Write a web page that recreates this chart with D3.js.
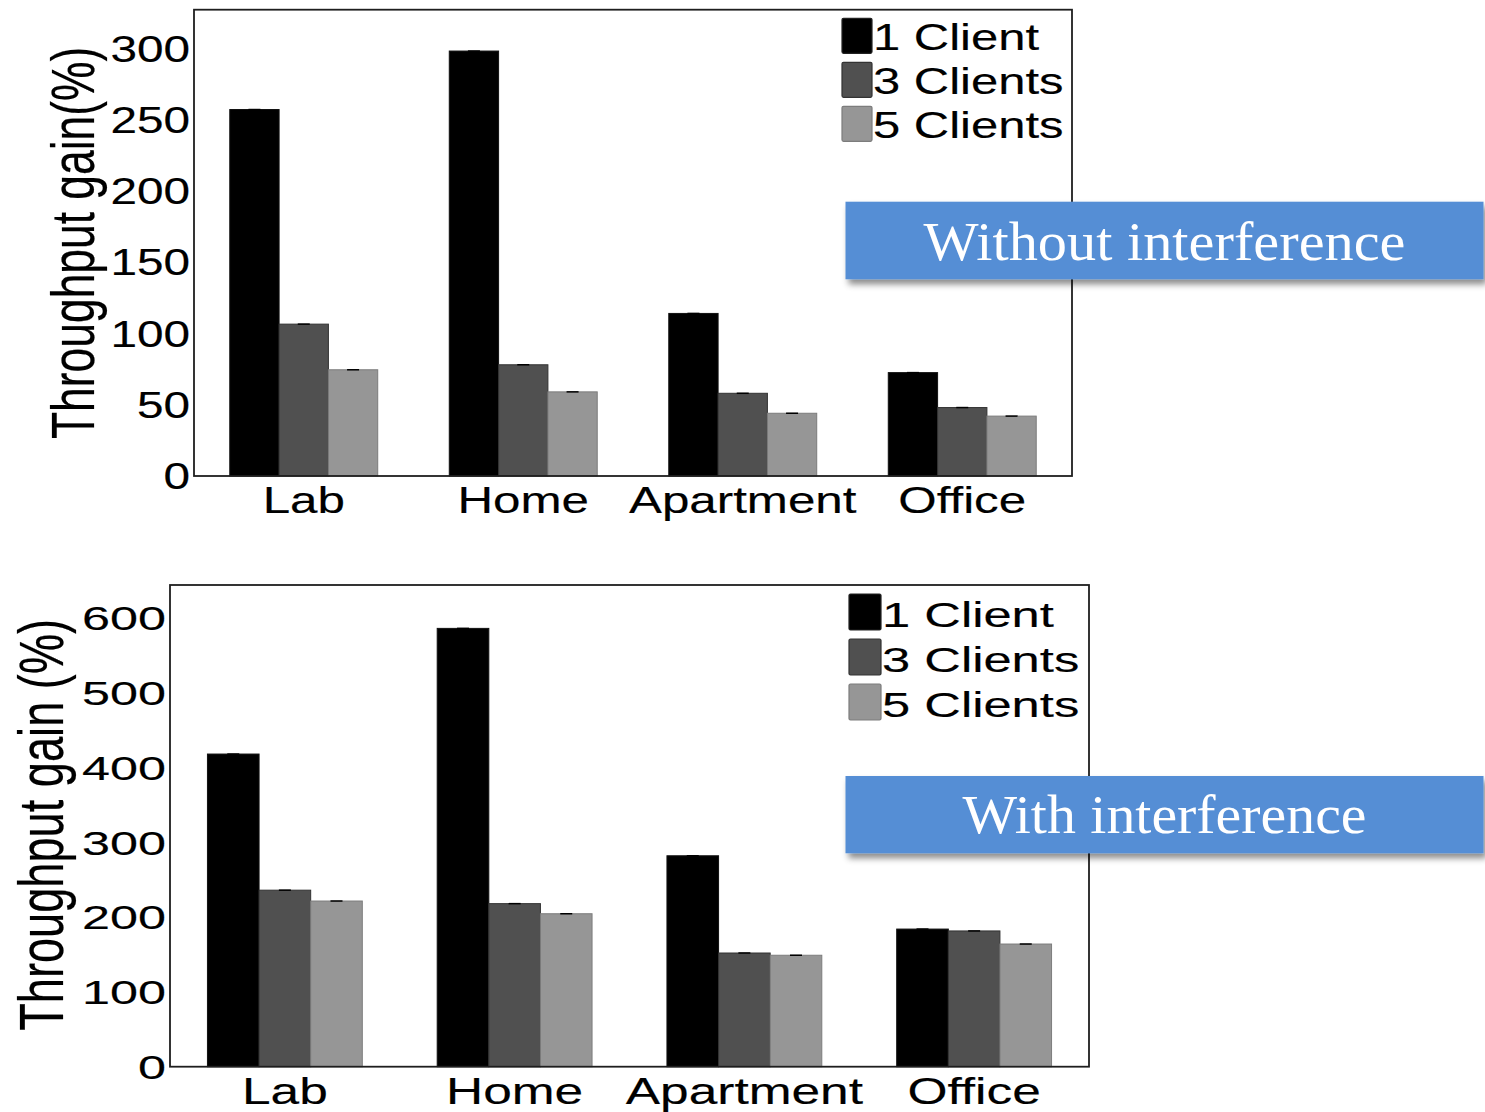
<!DOCTYPE html>
<html>
<head>
<meta charset="utf-8">
<script src="https://cdn.jsdelivr.net/npm/d3@7/dist/d3.min.js"></script>
<style>
  html, body { margin: 0; padding: 0; background: #ffffff; }
  svg { display: block; }
</style>
</head>
<body>
<svg id="chart" width="1485" height="1112"></svg>
<script>
// Deployment sites and client counts
const categories = ["Lab", "Home", "Apartment", "Office"];
const seriesNames = ["1 Client", "3 Clients", "5 Clients"];

// Throughput gain (%) without interference
const noIntf1 = [257, 298, 114, 72.5];
const noIntf3 = [106.5, 78, 58, 48];
const noIntf5 = [74.5, 59, 44, 42];

// Throughput gain (%) with interference
const intf1 = [418, 586, 282, 184];
const intf3 = [236, 218, 152, 181.5];
const intf5 = [221.5, 204.5, 149, 164];

// Axis ticks
const ticksTop = [0, 50, 100, 150, 200, 250, 300];
const ticksBottom = [0, 100, 200, 300, 400, 500, 600];

const fills = ["#000000", "#505050", "#969696"];
const edges = ["#111111", "#333333", "#7c7c7c"];

const svg = d3.select("#chart");

// Drop shadow for the caption banners
const defs = svg.append("defs");
const f = defs.append("filter").attr("id", "shadow")
  .attr("x", "-5%").attr("y", "-20%").attr("width", "115%").attr("height", "160%");
f.append("feDropShadow").attr("dx", 3).attr("dy", 5).attr("stdDeviation", 3)
  .attr("flood-color", "#000").attr("flood-opacity", 0.45);

// Horizontally widened text helper
function stretchedText(g, x, y, str, opts) {
  return g.append("text")
    .attr("transform", `translate(${x},${y}) scale(${opts.sx},1)` + (opts.rotate ? ` rotate(${opts.rotate})` : ""))
    .attr("text-anchor", opts.anchor || "start")
    .attr("dy", opts.dy || 0)
    .attr("font-family", "'Liberation Sans', Arial, Helvetica, sans-serif")
    .attr("font-size", opts.size)
    .attr("fill", "#000")
    .attr("stroke", "#000")
    .attr("stroke-width", 0.15)
    .text(str);
}

function drawPanel(p) {
  const g = svg.append("g");
  const x0 = d3.scaleBand().domain(categories).range([p.left, p.right]).padding(0);
  const bw = x0.bandwidth();
  const x1 = d3.scaleBand().domain(seriesNames).range([bw * 0.163, bw * 0.837]).padding(0);
  const y = d3.scaleLinear().domain([0, p.yMax]).range([p.bottom, p.top]);

  const rows = categories.map((c, i) => ({ cat: c, vals: p.series.map(s => s[i]) }));

  const groups = g.selectAll("g.grp").data(rows).join("g")
    .attr("class", "grp")
    .attr("transform", d => `translate(${x0(d.cat)},0)`);

  groups.selectAll("rect").data(d => d.vals.map((v, k) => ({ k, v }))).join("rect")
    .attr("x", d => x1(seriesNames[d.k]))
    .attr("y", d => y(d.v))
    .attr("width", x1.bandwidth())
    .attr("height", d => y(0) - y(d.v))
    .attr("fill", d => fills[d.k])
    .attr("stroke", d => edges[d.k])
    .attr("stroke-width", 1);

  // tiny error-bar caps
  groups.selectAll("line.cap").data(d => d.vals.map((v, k) => ({ k, v }))).join("line")
    .attr("class", "cap")
    .attr("x1", d => x1(seriesNames[d.k]) + x1.bandwidth() / 2 - 6)
    .attr("x2", d => x1(seriesNames[d.k]) + x1.bandwidth() / 2 + 6)
    .attr("y1", d => y(d.v)).attr("y2", d => y(d.v))
    .attr("stroke", "#000").attr("stroke-width", 1.5);

  // axes frame
  g.append("rect")
    .attr("x", p.left).attr("y", p.top)
    .attr("width", p.right - p.left).attr("height", p.bottom - p.top)
    .attr("fill", "none").attr("stroke", "#1e1e1e").attr("stroke-width", 1.8);

  // y tick labels
  p.ticks.forEach(t => {
    stretchedText(g, p.tickX, y(t), String(t), { sx: p.tickSx, size: p.tickSize, anchor: "end", dy: "0.36em" });
  });

  // x category labels
  categories.forEach(c => {
    stretchedText(g, x0(c) + bw / 2, p.catY, c, { sx: p.catSx, size: p.catSize, anchor: "middle" });
  });

  // y axis title
  stretchedText(g, p.titleX, (p.top + p.bottom) / 2 + p.titleDy, p.title,
    { sx: p.titleSx, size: p.titleSize, anchor: "middle", rotate: -90 });

  // legend
  seriesNames.forEach((s, k) => {
    const ty = p.legTop + k * p.legPitch;
    g.append("rect")
      .attr("x", p.legX).attr("y", ty)
      .attr("width", p.legW).attr("height", p.legH)
      .attr("rx", 1.5)
      .attr("fill", fills[k]).attr("stroke", k === 0 ? "#222" : edges[k]).attr("stroke-width", 1.2);
    stretchedText(g, p.legX + p.legW + 1, ty + p.legH - 3, s, { sx: p.legSx, size: p.legSize, anchor: "start" });
  });

  // caption banner
  const b = g.append("g");
  b.append("rect")
    .attr("x", p.banX).attr("y", p.banY)
    .attr("width", p.banW).attr("height", p.banH)
    .attr("fill", "#558ED5")
    .attr("filter", "url(#shadow)");
  b.append("text")
    .attr("x", p.banX + p.banW / 2).attr("y", p.banBase)
    .attr("text-anchor", "middle")
    .attr("font-family", "'Liberation Serif', 'DejaVu Serif', serif")
    .attr("font-size", p.banSize)
    .attr("textLength", p.banLen).attr("lengthAdjust", "spacingAndGlyphs")
    .attr("fill", "#ffffff")
    .text(p.banText);
}

drawPanel({
  left: 194, right: 1072, top: 9.7, bottom: 476, yMax: 327,
  series: [noIntf1, noIntf3, noIntf5],
  ticks: ticksTop, tickX: 190, tickSx: 1.29, tickSize: 37,
  catY: 513, catSx: 1.37, catSize: 36,
  title: "Throughput gain(%)", titleX: 94, titleDy: 0, titleSx: 1.36, titleSize: 44.4,
  legX: 842, legTop: 18.3, legPitch: 44, legW: 30, legH: 35, legSx: 1.36, legSize: 36,
  banX: 845.5, banY: 201.7, banW: 638, banH: 77.6, banBase: 260, banSize: 55, banLen: 482,
  banText: "Without interference"
});

drawPanel({
  left: 170, right: 1089, top: 585, bottom: 1066.7, yMax: 644,
  series: [intf1, intf3, intf5],
  ticks: ticksBottom, tickX: 166, tickSx: 1.48, tickSize: 34,
  catY: 1104.3, catSx: 1.39, catSize: 37,
  title: "Throughput gain (%)", titleX: 63, titleDy: -1, titleSx: 1.38, titleSize: 45.2,
  legX: 849, legTop: 594, legPitch: 45, legW: 32, legH: 36, legSx: 1.47, legSize: 34.5,
  banX: 845.5, banY: 776, banW: 638, banH: 77.3, banBase: 832.7, banSize: 54, banLen: 404,
  banText: "With interference"
});
</script>
</body>
</html>
